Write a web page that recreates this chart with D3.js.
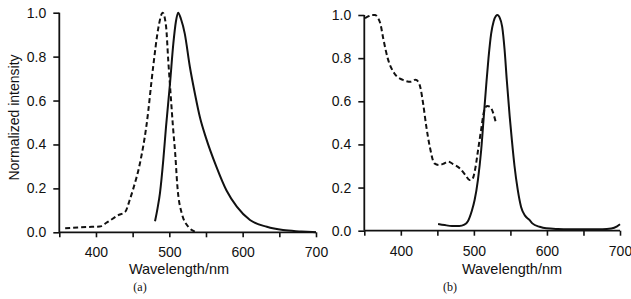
<!DOCTYPE html>
<html>
<head>
<meta charset="utf-8">
<script src="https://cdn.jsdelivr.net/npm/d3@7"></script>
<style>
    body { margin: 0; background: #fff; }
    svg text { font-family: "Liberation Sans", Arial, sans-serif; fill: #111; }
    .panel-tag { font-family: "Liberation Serif", "Times New Roman", serif; }
</style>
</head>
<body>
<div id="chart"></div>
<script>
// panel (a) - excitation (dashed) and emission (solid)
const exA_wl  = [358, 375, 396, 405, 415, 430, 440, 446, 451, 460, 469, 478, 485, 491, 495.5, 498.6, 502.4, 505, 508, 511, 517, 526, 535];
const exA_val = [0.018, 0.022, 0.025, 0.026, 0.045, 0.077, 0.094, 0.147, 0.2, 0.315, 0.49, 0.754, 0.93, 1.0, 0.94, 0.78, 0.6, 0.48, 0.36, 0.21, 0.086, 0.025, 0.003];
const emA_wl  = [480.5, 484, 487.3, 491.8, 495.5, 501, 505.5, 509, 512, 516, 521, 528, 535, 542, 550, 564, 578, 592, 610, 633, 655, 680, 700];
const emA_val = [0.05, 0.11, 0.18, 0.33, 0.48, 0.68, 0.86, 0.96, 1.0, 0.97, 0.906, 0.754, 0.63, 0.52, 0.43, 0.30, 0.19, 0.117, 0.056, 0.025, 0.01, 0.004, 0.0];

// panel (b)
const exB_wl  = [351, 356, 360, 365, 368, 372, 376, 382, 391, 402, 414, 420, 424, 427, 430.5, 435, 439.6, 446, 452, 458, 465, 471, 480.5, 488, 494, 498, 502, 506, 510, 514, 518, 522, 526, 530.5];
const exB_val = [0.985, 0.995, 1.0, 1.0, 0.99, 0.96, 0.89, 0.8, 0.73, 0.70, 0.69, 0.70, 0.69, 0.66, 0.59, 0.48, 0.39, 0.312, 0.305, 0.31, 0.32, 0.31, 0.29, 0.26, 0.235, 0.24, 0.29, 0.38, 0.47, 0.555, 0.578, 0.575, 0.55, 0.495];
const emB_wl  = [451, 460, 470, 480, 487, 492, 497, 501, 505.5, 510, 514, 517, 520, 523.7, 527, 530, 532.5, 535, 538.7, 542, 545, 549, 552, 555.6, 560, 564.6, 570, 576, 580, 590, 599, 615, 630, 650, 676, 688, 696, 700];
const emB_val = [0.031, 0.026, 0.022, 0.022, 0.028, 0.045, 0.09, 0.142, 0.235, 0.374, 0.55, 0.68, 0.8, 0.915, 0.97, 0.995, 1.0, 0.99, 0.946, 0.84, 0.70, 0.53, 0.42, 0.3, 0.19, 0.11, 0.07, 0.05, 0.034, 0.018, 0.011, 0.008, 0.007, 0.007, 0.007, 0.01, 0.02, 0.03];

const xTicks = [350, 400, 450, 500, 550, 600, 650, 700];
const xLabels = [400, 500, 600, 700];
const yTicks = [0, 0.2, 0.4, 0.6, 0.8, 1.0];

const svg = d3.select("#chart").append("svg")
    .attr("width", 631)
    .attr("height", 299);

function zip(xs, ys) {
    return xs.map((x, i) => [x, ys[i]]);
}

function drawPanel(p) {
    const x = d3.scaleLinear().domain([350, 700]).range([p.left, p.right]);
    const y = d3.scaleLinear().domain([0, 1]).range([p.bottom, p.top]);

    const line = d3.line()
        .x(d => x(d[0]))
        .y(d => y(d[1]))
        .curve(d3.curveMonotoneX);

    const g = svg.append("g");

    const xAxis = g.append("g")
        .attr("transform", `translate(0,${p.bottom})`)
        .call(d3.axisBottom(x)
            .tickValues(xTicks)
            .tickSize(5)
            .tickPadding(10)
            .tickFormat(d => xLabels.includes(d) ? d : ""));

    const yAxis = g.append("g")
        .attr("transform", `translate(${p.left},0)`)
        .call(d3.axisLeft(y)
            .tickValues(yTicks)
            .tickSize(6)
            .tickPadding(7)
            .tickFormat(d3.format(".1f")));

    [xAxis, yAxis].forEach(a => {
        a.select(".domain").attr("stroke", "#111").attr("stroke-width", 1.8);
        a.selectAll(".tick line").attr("stroke", "#111").attr("stroke-width", 1.6);
        a.selectAll("text").attr("font-size", 14).attr("fill", "#111");
    });
    // plain lines, no outer tick caps
    xAxis.select(".domain").attr("d", `M${p.left},0H${p.right}`);
    yAxis.select(".domain").attr("d", `M0,${p.bottom}V${p.top}`);

    g.append("path")
        .datum(zip(p.exWl, p.exVal))
        .attr("fill", "none")
        .attr("stroke", "#111")
        .attr("stroke-width", 2)
        .attr("stroke-dasharray", "5,3")
        .attr("d", line);

    g.append("path")
        .datum(zip(p.emWl, p.emVal))
        .attr("fill", "none")
        .attr("stroke", "#111")
        .attr("stroke-width", 2)
        .attr("d", line);

    g.append("text")
        .attr("x", p.titleX)
        .attr("y", 274)
        .attr("text-anchor", "middle")
        .attr("font-size", 14.5)
        .text("Wavelength/nm");

    g.append("text")
        .attr("class", "panel-tag")
        .attr("x", p.tagX)
        .attr("y", 291)
        .attr("text-anchor", "middle")
        .attr("font-size", 12)
        .text(p.tag);
}

drawPanel({
    left: 59.3, right: 316, top: 12.7, bottom: 232.3,
    exWl: exA_wl, exVal: exA_val, emWl: emA_wl, emVal: emA_val,
    titleX: 179, tag: "(a)", tagX: 140
});

drawPanel({
    left: 364.3, right: 620, top: 15, bottom: 230.7,
    exWl: exB_wl, exVal: exB_val, emWl: emB_wl, emVal: emB_val,
    titleX: 512, tag: "(b)", tagX: 450
});

svg.append("text")
    .attr("transform", "translate(19,117.5) rotate(-90)")
    .attr("text-anchor", "middle")
    .attr("font-size", 14)
    .text("Normalized intensity");
</script>
</body>
</html>
